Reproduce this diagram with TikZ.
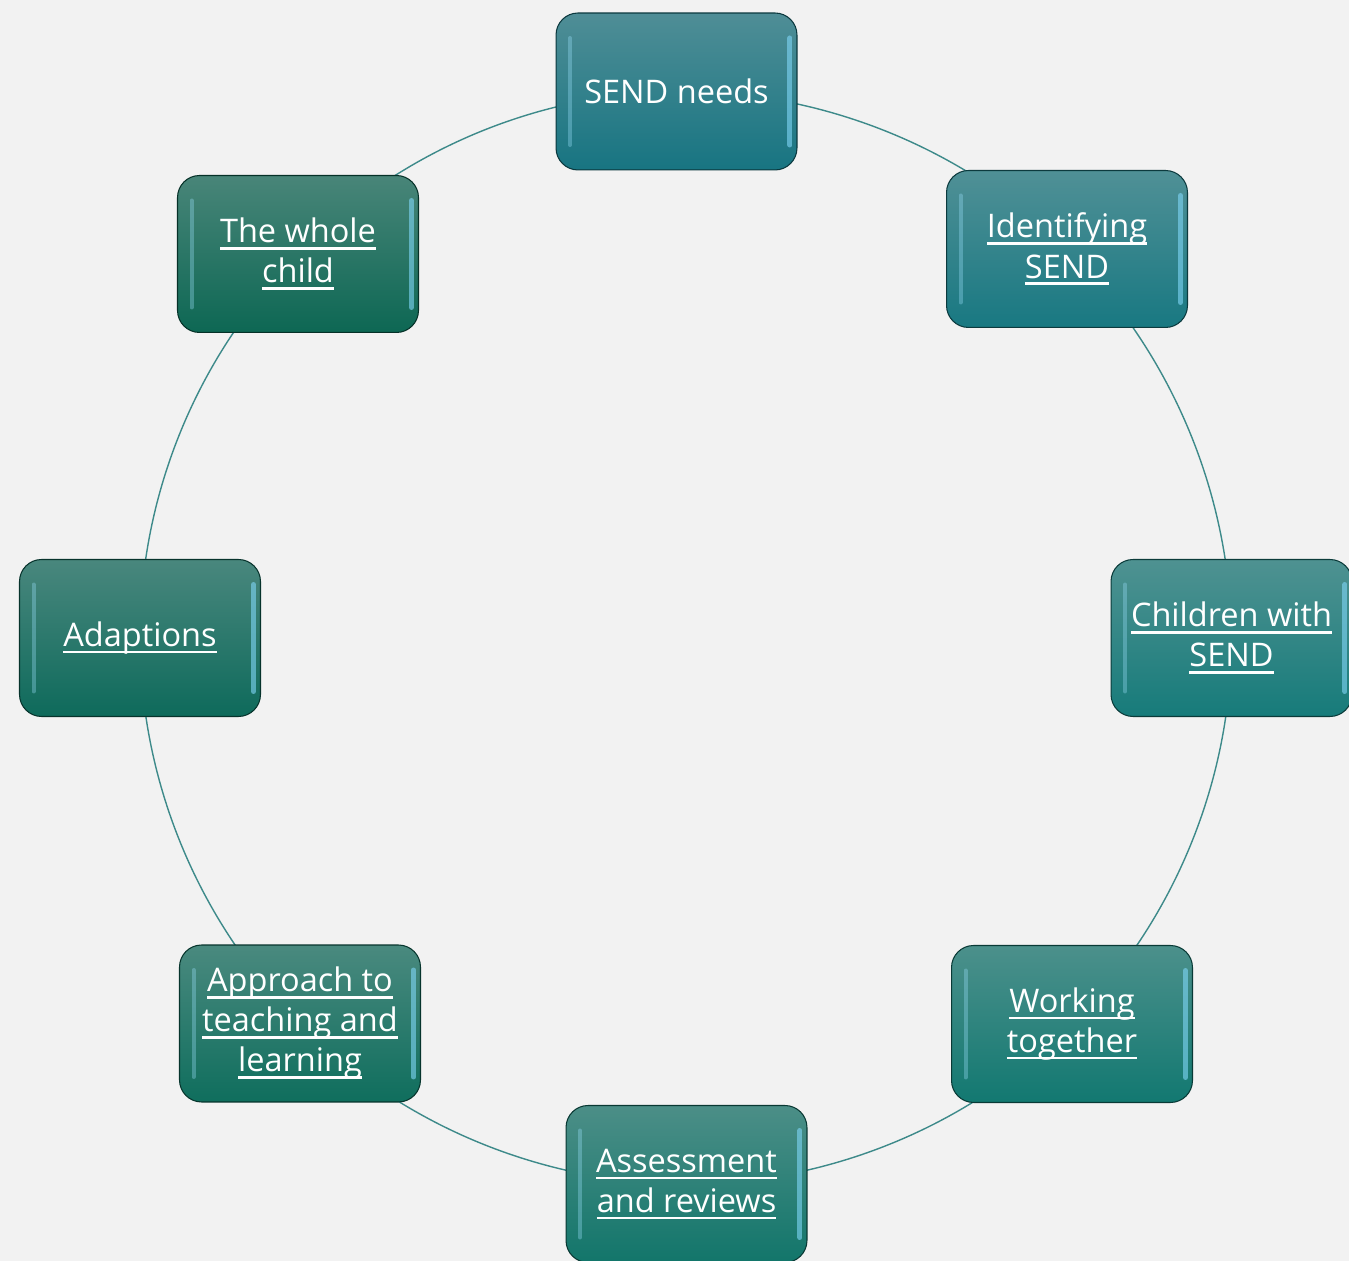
\documentclass[tikz,border=0pt]{standalone}
\usepackage{fontspec}
\setmainfont{Open Sans}
\usepackage{tikz}

\definecolor{bgcol}{RGB}{242,242,242}
\definecolor{topmix}{RGB}{160,168,168}
\definecolor{ringcol}{RGB}{61,138,138}
\definecolor{colA}{RGB}{25,124,138}
\definecolor{colB}{RGB}{26,128,138}
\definecolor{colC}{RGB}{24,131,130}
\definecolor{colD}{RGB}{19,128,120}
\definecolor{colE}{RGB}{19,125,113}
\definecolor{colF}{RGB}{16,117,99}
\definecolor{colG}{RGB}{15,113,97}
\definecolor{colH}{RGB}{14,110,89}

\pgfdeclarelayer{background}
\pgfsetlayers{background,main}

\newcommand{\boxfont}{\fontsize{18.5}{22.8}\selectfont}
\newsavebox{\lnkbox}
\newcommand{\linktext}[1]{\sbox{\lnkbox}{#1}\rlap{\rule[-3.9pt]{\wd\lnkbox}{1.4pt}}\usebox{\lnkbox}}

\tikzset{
  cyclebox/.style={rounded corners=0.44cm, minimum width=4.82cm, minimum height=3.14cm,
    draw=#1!45!black, line width=0.6pt,
    top color=#1!60!topmix, middle color=#1, bottom color=#1!94!black,
    text=white, align=center, font=\boxfont, inner sep=2pt,
    path picture={
      \draw[sharp corners, line cap=round, line width=0.08cm, white!60!cyan, opacity=0.35]
        ([xshift=0.28cm, yshift=-0.5cm]path picture bounding box.north west)
        -- ([xshift=0.28cm, yshift=0.5cm]path picture bounding box.south west);
      \draw[sharp corners, line cap=round, line width=0.1cm, white!50!cyan, opacity=0.6]
        ([xshift=-0.14cm, yshift=-0.5cm]path picture bounding box.north east)
        -- ([xshift=-0.14cm, yshift=0.5cm]path picture bounding box.south east);
    }},
  ring/.style={draw=ringcol, line width=0.8pt, bend left=22.5, looseness=0.88},
}

\begin{document}
\begin{tikzpicture}[x=0.02cm,y=0.02cm]
  \path[use as bounding box] (0,0) rectangle (1349,1261);

  \node[cyclebox=colA] (send) at (676.5,1169.5) {SEND needs};
  \node[cyclebox=colB] (identify) at (1067,1012) {\linktext{Identifying}\\\linktext{SEND}};
  \node[cyclebox=colC] (children) at (1231.5,623) {\linktext{Children with}\\\linktext{SEND}};
  \node[cyclebox=colD] (working) at (1072,237) {\linktext{Working}\\\linktext{together}};
  \node[cyclebox=colE] (assess) at (686.5,77) {\linktext{Assessment}\\\linktext{and reviews}};
  \node[cyclebox=colF] (approach) at (300,237.5) {\linktext{Approach to}\\\linktext{teaching and}\\\linktext{learning}};
  \node[cyclebox=colG] (adapt) at (140,623) {\linktext{Adaptions}};
  \node[cyclebox=colH] (whole) at (298,1007) {\linktext{The whole}\\\linktext{child}};

  % page colour and ring behind the boxes
  \begin{pgfonlayer}{background}
    \fill[bgcol] (0,0) rectangle (1349,1261);
    \draw[ring] (send.center) to (identify.center);
    \draw[ring] (identify.center) to (children.center);
    \draw[ring] (children.center) to (working.center);
    \draw[ring] (working.center) to (assess.center);
    \draw[ring] (assess.center) to (approach.center);
    \draw[ring] (approach.center) to (adapt.center);
    \draw[ring] (adapt.center) to (whole.center);
    \draw[ring] (whole.center) to (send.center);
  \end{pgfonlayer}
\end{tikzpicture}
\end{document}
